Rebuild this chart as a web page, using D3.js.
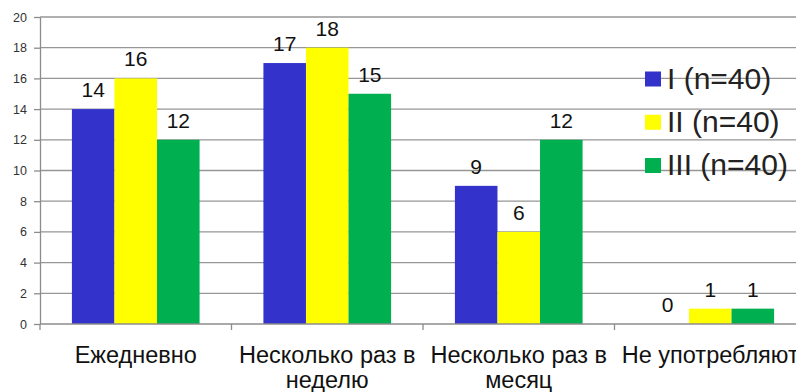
<!DOCTYPE html>
<html>
<head>
<meta charset="utf-8">
<script src="https://cdn.jsdelivr.net/npm/d3@7"></script>
<style>
  html, body { margin: 0; padding: 0; background: #fff; overflow: hidden; }
  svg { display: block; font-family: "Liberation Sans", Arial, sans-serif; }
</style>
</head>
<body>
<svg id="chart" width="796" height="392"></svg>
<script>
// Frequency categories (two-line labels where the text wraps)
const categories = ["Ежедневно", "Несколько раз в неделю", "Несколько раз в месяц", "Не употребляют"];
const categoryLines = [["Ежедневно"], ["Несколько раз в", "неделю"], ["Несколько раз в", "месяц"], ["Не употребляют"]];
const seriesNames = ["I (n=40)", "II (n=40)", "III (n=40)"];
const seriesI = [14, 17, 9, 0];
const seriesII = [16, 18, 6, 1];
const seriesIII = [12, 15, 12, 1];
const yTicks = [0, 2, 4, 6, 8, 10, 12, 14, 16, 18, 20];
const colors = ["#3333cc", "#ffff00", "#00b050"];

const series = [seriesI, seriesII, seriesIII];

const svg = d3.select("#chart");
const plotLeft = 40, plotTop = 17, plotBottom = 324;
const catWidth = 191.5;
const plotRight = plotLeft + catWidth * categories.length;

const y = d3.scaleLinear().domain([0, 20]).range([plotBottom, plotTop]);
const x = d3.scaleBand().domain(categories).range([plotLeft, plotRight]).paddingInner(0).paddingOuter(0);
// Excel-style gap: three bars plus 1.5 bar widths of gap per category
const xs = d3.scaleBand().domain(d3.range(series.length)).range([0, x.bandwidth()]).paddingInner(0).paddingOuter(0.75);

// Gridlines
svg.append("g")
  .selectAll("line")
  .data(yTicks.filter(d => d > 0))
  .join("line")
  .attr("x1", plotLeft).attr("x2", 796)
  .attr("y1", d => y(d)).attr("y2", d => y(d))
  .attr("stroke", "#969696").attr("stroke-width", 1.3);

// Y axis
const yAxis = svg.append("g")
  .attr("transform", `translate(${plotLeft},0)`)
  .call(d3.axisLeft(y).tickValues(yTicks).tickSize(6).tickPadding(7).tickSizeOuter(0));
yAxis.select(".domain").attr("stroke", "#8c8c8c").attr("stroke-width", 1.3);
yAxis.selectAll(".tick line").attr("stroke", "#8c8c8c").attr("stroke-width", 1.3);
yAxis.selectAll(".tick text")
  .attr("font-family", "'Liberation Sans', Arial, sans-serif")
  .attr("font-size", 12.5).attr("fill", "#333");

// Bars
const groups = svg.append("g").selectAll("g")
  .data(series)
  .join("g")
  .attr("fill", (d, i) => colors[i]);

groups.selectAll("rect")
  .data((d, si) => d.map((v, ci) => ({ v, ci, si })))
  .join("rect")
  .attr("x", d => x(categories[d.ci]) + xs(d.si))
  .attr("width", xs.bandwidth())
  .attr("y", d => y(d.v))
  .attr("height", d => plotBottom - y(d.v));

// Value labels
svg.append("g").selectAll("g")
  .data(series)
  .join("g")
  .selectAll("text")
  .data((d, si) => d.map((v, ci) => ({ v, ci, si })))
  .join("text")
  .attr("x", d => x(categories[d.ci]) + xs(d.si) + xs.bandwidth() / 2)
  .attr("y", d => y(d.v) - 12)
  .attr("text-anchor", "middle")
  .attr("font-size", 21)
  .attr("fill", "#111")
  .text(d => d.v);

// X axis
const xAxisG = svg.append("g");
xAxisG.append("line")
  .attr("x1", plotLeft).attr("x2", 796)
  .attr("y1", plotBottom).attr("y2", plotBottom)
  .attr("stroke", "#8c8c8c").attr("stroke-width", 1.3);
xAxisG.selectAll("line.tick")
  .data(categories)
  .join("line")
  .attr("class", "tick")
  .attr("x1", d => x(d)).attr("x2", d => x(d))
  .attr("y1", plotBottom).attr("y2", plotBottom + 6)
  .attr("stroke", "#8c8c8c").attr("stroke-width", 1.3);

const labels = xAxisG.selectAll("text")
  .data(categories)
  .join("text")
  .attr("text-anchor", "middle")
  .attr("font-size", 23.5)
  .attr("fill", "#111");
labels.selectAll("tspan")
  .data((d, i) => categoryLines[i].map(t => ({ t, c: d })))
  .join("tspan")
  .attr("x", d => x(d.c) + x.bandwidth() / 2)
  .attr("y", (d, j) => 363 + j * 25)
  .text(d => d.t);

// Legend
const legend = svg.append("g").selectAll("g")
  .data(seriesNames)
  .join("g")
  .attr("transform", (d, i) => `translate(645,${79 + i * 43.25})`);
legend.append("rect")
  .attr("x", 0).attr("y", -7.5).attr("width", 16).attr("height", 15)
  .attr("fill", (d, i) => colors[i]);
legend.append("text")
  .attr("x", 22).attr("y", 9.5)
  .attr("font-size", 30)
  .attr("fill", "#222")
  .text(d => d);
</script>
</body>
</html>
